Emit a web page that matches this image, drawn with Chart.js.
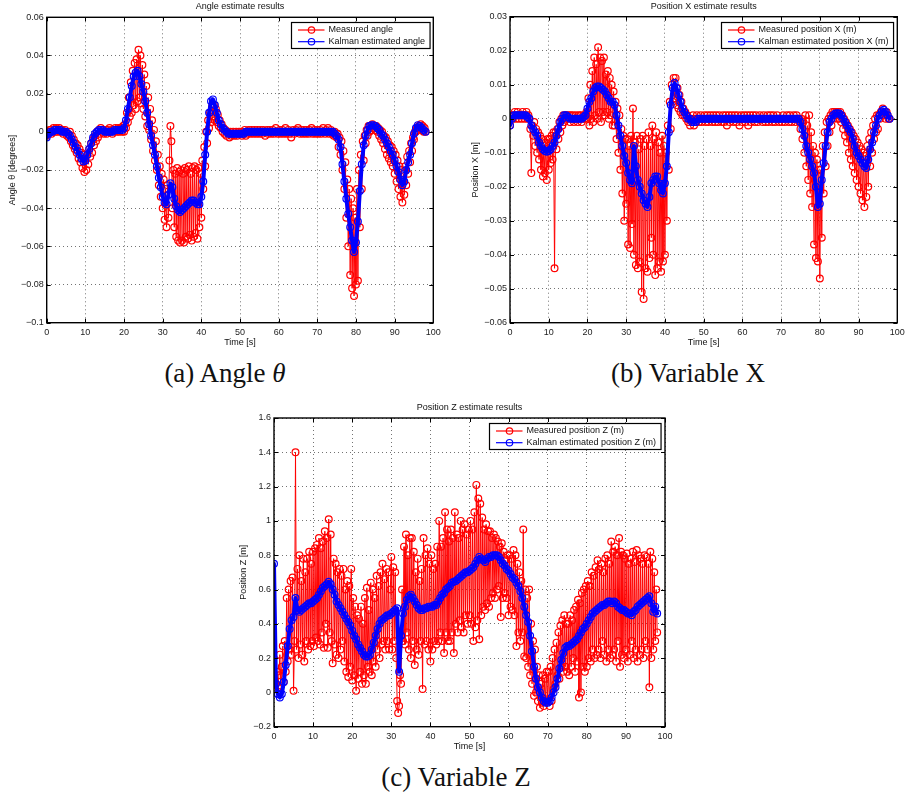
<!DOCTYPE html>
<html>
<head>
<meta charset="utf-8">
<script src="https://cdn.jsdelivr.net/npm/chart.js@4.4.0/dist/chart.umd.min.js"></script>
<style>
body { margin: 0; background: #fff; width: 913px; height: 794px; position: relative; overflow: hidden; }
canvas { position: absolute; }
.cap { position: absolute; font-family: "Liberation Serif", serif; font-size: 27px; color: #111;
       transform: translate(-50%, -50%); white-space: nowrap; }
</style>
</head>
<body>
<canvas id="g_angle" width="456" height="352" style="left:0;top:0"></canvas>
<canvas id="g_posX" width="453" height="352" style="left:460px;top:0"></canvas>
<canvas id="g_posZ" width="460" height="365" style="left:220px;top:395px"></canvas>
<div class="cap" style="left:225px;top:373px">(a) Angle <i>θ</i></div>
<div class="cap" style="left:688px;top:373px">(b) Variable X</div>
<div class="cap" style="left:456px;top:777px">(c) Variable Z</div>
<script>
// time of the Kalman estimates [s] (every 0.5 s)
const timeKalman = [
0,0.5,1,1.5,2,2.5,3,3.5,4,4.5,
5,5.5,6,6.5,7,7.5,8,8.5,9,9.5,
10,10.5,11,11.5,12,12.5,13,13.5,14,14.5,
15,15.5,16,16.5,17,17.5,18,18.5,19,19.5,
20,20.5,21,21.5,22,22.5,23,23.5,24,24.5,
25,25.5,26,26.5,27,27.5,28,28.5,29,29.5,
30,30.5,31,31.5,32,32.5,33,33.5,34,34.5,
35,35.5,36,36.5,37,37.5,38,38.5,39,39.5,
40,40.5,41,41.5,42,42.5,43,43.5,44,44.5,
45,45.5,46,46.5,47,47.5,48,48.5,49,49.5,
50,50.5,51,51.5,52,52.5,53,53.5,54,54.5,
55,55.5,56,56.5,57,57.5,58,58.5,59,59.5,
60,60.5,61,61.5,62,62.5,63,63.5,64,64.5,
65,65.5,66,66.5,67,67.5,68,68.5,69,69.5,
70,70.5,71,71.5,72,72.5,73,73.5,74,74.5,
75,75.5,76,76.5,77,77.5,78,78.5,79,79.5,
80,80.5,81,81.5,82,82.5,83,83.5,84,84.5,
85,85.5,86,86.5,87,87.5,88,88.5,89,89.5,
90,90.5,91,91.5,92,92.5,93,93.5,94,94.5,
95,95.5,96,96.5,97,97.5,98];

// time of the measurements [s] (every 0.25 s)
const timeMeasured = [
0,0.25,0.5,0.75,1,1.25,1.5,1.75,2,2.25,2.5,2.75,3,3.25,3.5,3.75,4,4.25,4.5,4.75,
5,5.25,5.5,5.75,6,6.25,6.5,6.75,7,7.25,7.5,7.75,8,8.25,8.5,8.75,9,9.25,9.5,9.75,
10,10.25,10.5,10.75,11,11.25,11.5,11.75,12,12.25,12.5,12.75,13,13.25,13.5,13.75,14,14.25,14.5,14.75,
15,15.25,15.5,15.75,16,16.25,16.5,16.75,17,17.25,17.5,17.75,18,18.25,18.5,18.75,19,19.25,19.5,19.75,
20,20.25,20.5,20.75,21,21.25,21.5,21.75,22,22.25,22.5,22.75,23,23.25,23.5,23.75,24,24.25,24.5,24.75,
25,25.25,25.5,25.75,26,26.25,26.5,26.75,27,27.25,27.5,27.75,28,28.25,28.5,28.75,29,29.25,29.5,29.75,
30,30.25,30.5,30.75,31,31.25,31.5,31.75,32,32.25,32.5,32.75,33,33.25,33.5,33.75,34,34.25,34.5,34.75,
35,35.25,35.5,35.75,36,36.25,36.5,36.75,37,37.25,37.5,37.75,38,38.25,38.5,38.75,39,39.25,39.5,39.75,
40,40.25,40.5,40.75,41,41.25,41.5,41.75,42,42.25,42.5,42.75,43,43.25,43.5,43.75,44,44.25,44.5,44.75,
45,45.25,45.5,45.75,46,46.25,46.5,46.75,47,47.25,47.5,47.75,48,48.25,48.5,48.75,49,49.25,49.5,49.75,
50,50.25,50.5,50.75,51,51.25,51.5,51.75,52,52.25,52.5,52.75,53,53.25,53.5,53.75,54,54.25,54.5,54.75,
55,55.25,55.5,55.75,56,56.25,56.5,56.75,57,57.25,57.5,57.75,58,58.25,58.5,58.75,59,59.25,59.5,59.75,
60,60.25,60.5,60.75,61,61.25,61.5,61.75,62,62.25,62.5,62.75,63,63.25,63.5,63.75,64,64.25,64.5,64.75,
65,65.25,65.5,65.75,66,66.25,66.5,66.75,67,67.25,67.5,67.75,68,68.25,68.5,68.75,69,69.25,69.5,69.75,
70,70.25,70.5,70.75,71,71.25,71.5,71.75,72,72.25,72.5,72.75,73,73.25,73.5,73.75,74,74.25,74.5,74.75,
75,75.25,75.5,75.75,76,76.25,76.5,76.75,77,77.25,77.5,77.75,78,78.25,78.5,78.75,79,79.25,79.5,79.75,
80,80.25,80.5,80.75,81,81.25,81.5,81.75,82,82.25,82.5,82.75,83,83.25,83.5,83.75,84,84.25,84.5,84.75,
85,85.25,85.5,85.75,86,86.25,86.5,86.75,87,87.25,87.5,87.75,88,88.25,88.5,88.75,89,89.25,89.5,89.75,
90,90.25,90.5,90.75,91,91.25,91.5,91.75,92,92.25,92.5,92.75,93,93.25,93.5,93.75,94,94.25,94.5,94.75,
95,95.25,95.5,95.75,96,96.25,96.5,96.75,97,97.25,97.5,97.75,98];

// (a) angle
const angleMeasured = [
-0.002,-0.001,0,0.001,0.001,-0.001,0,0.002,0.001,0,0.002,0,0.001,0.002,0,0.001,0.001,-0.001,0,0.001,
0,-0.002,-0.001,-0.003,0,-0.005,-0.002,-0.007,-0.004,-0.009,-0.006,-0.011,-0.007,-0.014,-0.009,-0.016,-0.011,-0.019,-0.012,-0.021,
-0.014,-0.020,-0.012,-0.017,-0.009,-0.013,-0.006,-0.011,-0.004,-0.007,-0.002,-0.005,0,-0.003,0.001,-0.001,0.002,0,0.001,-0.001,
0,0.001,-0.001,0.001,0,0.002,0,0.001,-0.001,0.001,0,0.002,0.001,0,0.002,0,0.001,0.002,0,0.003,
0,0.004,0.002,0.010,0.005,0.018,0.008,0.026,0.010,0.032,0.014,0.036,0.012,0.038,0.016,0.043,0.018,0.040,0.015,0.035,
0.012,0.030,0.008,0.024,0.003,0.018,0.001,0.012,-0.004,0.006,-0.010,0.001,-0.015,-0.005,-0.020,-0.012,-0.028,-0.018,-0.034,-0.022,
-0.040,-0.025,-0.046,-0.030,-0.050,-0.028,-0.045,-0.015,0.003,-0.005,-0.040,-0.020,-0.050,-0.022,-0.055,-0.019,-0.057,-0.021,-0.058,-0.020,
-0.057,-0.022,-0.058,-0.019,-0.055,-0.020,-0.056,-0.018,-0.054,-0.022,-0.057,-0.019,-0.055,-0.018,-0.053,-0.020,-0.056,-0.019,-0.050,-0.022,
-0.045,-0.015,-0.030,-0.008,-0.018,0,-0.006,0.006,0.002,0.010,0.005,0.013,0.008,0.014,0.006,0.012,0.005,0.009,0.003,0.006,
0.002,0.004,0,0.002,-0.001,0.001,-0.002,0,-0.001,-0.003,0,-0.002,-0.001,0,-0.002,-0.001,0,-0.002,-0.001,0,
-0.001,0,-0.002,0,-0.001,0.001,-0.002,0,-0.001,0.001,0,-0.001,0.001,0,-0.001,0.001,0,-0.001,0.001,0,
-0.001,0.001,0,-0.001,0.001,0,-0.002,0,0.001,-0.001,0,0.001,-0.001,0,0.001,-0.001,0,0.002,0,-0.001,
0,0.001,-0.001,0,0.001,-0.001,0,0.002,-0.001,0,0.001,-0.001,0,-0.003,0,0.001,-0.001,0,0.001,0,
0.002,0,-0.001,0.001,0,-0.001,0.001,0,-0.001,0.001,0,-0.001,0.001,0,0.002,-0.001,0,0.001,-0.001,0,
0.001,-0.001,0,0.001,-0.001,0,0.002,0,-0.001,0.001,0,0.002,-0.001,0,0.001,-0.001,0,-0.002,0,-0.002,
-0.003,-0.001,-0.008,-0.003,-0.012,-0.005,-0.020,-0.010,-0.030,-0.016,-0.045,-0.025,-0.060,-0.030,-0.075,-0.035,-0.082,-0.040,-0.086,-0.045,
-0.080,-0.030,-0.078,-0.020,-0.050,-0.012,-0.030,-0.005,-0.015,-0.002,-0.006,0.001,-0.002,0.003,0,0.003,0.001,0.004,0.002,0.003,
0.001,0.003,0,0.002,-0.002,0.001,-0.004,0,-0.006,-0.002,-0.009,-0.003,-0.012,-0.005,-0.014,-0.007,-0.016,-0.008,-0.018,-0.010,
-0.022,-0.012,-0.026,-0.015,-0.030,-0.018,-0.034,-0.020,-0.037,-0.022,-0.033,-0.018,-0.028,-0.013,-0.022,-0.010,-0.016,-0.006,-0.010,-0.003,
-0.004,0,0,0.002,0.001,0.003,0.002,0.004,0.001,0.003,0,0.002,0];
const angleKalman = [
-0.003,-0.001,0,0,0.001,0.001,0.001,0.001,0,0,
0,-0.001,-0.002,-0.004,-0.006,-0.008,-0.010,-0.012,-0.014,-0.0155,
-0.015,-0.012,-0.009,-0.006,-0.003,-0.001,0,0.001,0.001,0.001,
0,0,0,0,0,0.001,0.001,0.001,0.001,0.001,
0.002,0.006,0.012,0.018,0.024,0.029,0.031,0.032,0.029,0.025,
0.021,0.016,0.010,0.004,-0.002,-0.007,-0.012,-0.018,-0.024,-0.029,
-0.034,-0.037,-0.038,-0.033,-0.027,-0.029,-0.035,-0.039,-0.041,-0.042,
-0.041,-0.040,-0.039,-0.038,-0.037,-0.036,-0.036,-0.037,-0.038,-0.038,
-0.034,-0.026,-0.012,0,0.010,0.016,0.017,0.014,0.010,0.006,
0.004,0.002,0.001,0,-0.001,-0.001,-0.001,-0.001,-0.001,-0.001,
-0.001,-0.001,-0.001,0,0,0,0,0,0,0,
0,0,0,0,0,0,0,0,0,0,
0,0,0,0,0,0,0,0,0,0,
0,0,0,0,0,0,0,0,0,0,
0,0,0,0,0,0,0,0,0,-0.001,
-0.002,-0.004,-0.008,-0.017,-0.026,-0.035,-0.043,-0.050,-0.057,-0.063,
-0.058,-0.047,-0.031,-0.017,-0.007,-0.002,0.001,0.003,0.0035,0.0035,
0.003,0.002,0.001,-0.001,-0.002,-0.004,-0.006,-0.008,-0.010,-0.012,
-0.015,-0.018,-0.021,-0.025,-0.028,-0.026,-0.020,-0.016,-0.012,-0.006,
-0.001,0.002,0.0035,0.003,0.002,0.001,0];
const angleTicks = [-0.1, -0.08, -0.06, -0.04, -0.02, 0, 0.02, 0.04, 0.06];

// (b) position X
const posXMeasured = [
-0.002,0,0.001,0,0.001,0.002,0,0.001,0.002,0,0.001,0.001,0,0.002,0.001,0,0.001,0.002,0,0.001,
0,-0.003,-0.016,-0.002,-0.005,-0.001,-0.008,-0.003,-0.010,-0.004,-0.012,-0.005,-0.015,-0.006,-0.017,-0.008,-0.016,-0.007,-0.018,-0.006,
-0.015,-0.006,-0.013,-0.005,-0.012,-0.004,-0.044,-0.004,-0.009,-0.003,-0.006,-0.001,-0.004,0,-0.002,0.001,-0.001,0.001,0,0.001,
0,0.001,-0.001,0.001,0,0.001,-0.001,0,0.001,0,-0.001,0.001,0,0.001,-0.001,0,0.001,0,0.001,0.002,
0,0.006,-0.002,0.010,0,0.014,-0.001,0.018,0.001,0.016,0,0.021,0.002,0.018,-0.001,0.017,0.002,0.018,0.001,0.013,
0.002,0.014,0,0.012,0.001,0.010,-0.002,0.008,-0.002,0.005,-0.006,0.003,-0.010,0.001,-0.015,-0.003,-0.022,-0.005,-0.030,-0.006,
-0.025,-0.006,-0.037,-0.008,-0.038,-0.005,-0.031,0.003,-0.040,-0.007,-0.043,-0.005,-0.044,-0.009,-0.042,-0.006,-0.051,-0.005,-0.053,-0.008,
-0.044,-0.006,-0.045,-0.004,-0.041,-0.008,-0.035,-0.002,-0.040,-0.006,-0.046,-0.004,-0.044,-0.007,-0.042,-0.010,-0.045,-0.005,-0.042,-0.008,
-0.040,-0.010,-0.030,-0.002,-0.015,0.005,-0.003,0.010,0.005,0.012,0.006,0.012,0.004,0.009,0.003,0.007,0.002,0.005,0.001,0.003,
0.001,0.002,0,0.001,-0.001,0,-0.002,0,-0.001,0.001,-0.002,0,-0.001,0.001,0,-0.001,0,0.001,-0.001,0,
0,0.001,-0.001,0,0.001,-0.001,0,0.001,0,-0.001,0.001,0,-0.001,0.001,0,-0.001,0.001,0,0,-0.001,
0.001,-0.001,0,0.001,-0.002,0,0.001,-0.001,0,0.001,0,-0.001,0.001,0,-0.001,0.001,0,-0.002,0,0.001,
-0.001,0,0.001,-0.001,0,0.001,-0.002,0,0.001,-0.001,0,0.001,0,-0.001,0.001,0,-0.001,0,0.001,0,
0,-0.001,0.001,0,-0.001,0,0.001,-0.001,0,0.001,0,-0.001,0.001,0,-0.001,0,0.001,0,-0.001,0,
0,-0.001,0.001,0,-0.001,0,0.001,0,-0.001,0.001,0,-0.001,0,0.001,0,-0.001,0.001,0,0,-0.001,
-0.003,0,-0.006,-0.001,-0.010,0.001,-0.014,-0.002,-0.018,0.001,-0.022,-0.004,-0.026,-0.008,-0.037,-0.010,-0.041,-0.012,-0.042,-0.015,
-0.047,-0.015,-0.035,-0.008,-0.022,-0.004,-0.014,-0.001,-0.008,0,-0.004,0.001,-0.002,0.002,0,0.002,0.001,0.002,0,0.002,
0,0.002,-0.001,0.001,-0.003,0,-0.005,-0.001,-0.007,-0.002,-0.010,-0.003,-0.012,-0.004,-0.014,-0.005,-0.016,-0.006,-0.018,-0.007,
-0.020,-0.008,-0.022,-0.009,-0.024,-0.010,-0.026,-0.011,-0.023,-0.008,-0.020,-0.006,-0.014,-0.004,-0.010,-0.002,-0.006,0,-0.004,0.001,
-0.003,0.001,0,0.002,0.001,0.003,0.001,0.002,0,0.002,0.001,0,0];
const posXKalman = [
-0.002,0,0.001,0.001,0.001,0.001,0.001,0.001,0.001,0.0005,
0,-0.002,-0.003,-0.004,-0.005,-0.007,-0.008,-0.009,-0.0095,-0.0097,
-0.0095,-0.009,-0.008,-0.007,-0.005,-0.003,-0.001,0,0.001,0.001,
0.0005,0,0,0,0,0,0,0,0.0005,0.001,
0.003,0.005,0.006,0.008,0.009,0.0095,0.0095,0.009,0.0085,0.008,
0.007,0.006,0.005,0.005,0.004,0.001,-0.002,-0.005,-0.008,-0.011,
-0.013,-0.016,-0.018,-0.019,-0.008,-0.014,-0.018,-0.020,-0.022,-0.024,
-0.025,-0.026,-0.023,-0.019,-0.018,-0.017,-0.017,-0.019,-0.021,-0.022,
-0.019,-0.014,-0.004,0.004,0.009,0.0105,0.009,0.007,0.005,0.003,
0.002,0.001,0,0,-0.001,-0.001,-0.001,0,0,0,
0,0,0,0,0,0,0,0,0,0,
0,0,0,0,0,0,0,0,0,0,
0,0,0,0,0,0,0,0,0,0,
0,0,0,0,0,0,0,0,0,0,
0,0,0,0,0,0,0,0,0,0,
-0.001,-0.003,-0.005,-0.008,-0.010,-0.012,-0.014,-0.016,-0.020,-0.026,
-0.025,-0.018,-0.013,-0.008,-0.004,-0.001,0,0.001,0.0015,0.0016,
0.0015,0.001,0,-0.001,-0.002,-0.003,-0.004,-0.006,-0.008,-0.010,
-0.011,-0.012,-0.013,-0.014,-0.0145,-0.012,-0.009,-0.007,-0.004,-0.002,
0,0.001,0.0022,0.0026,0.002,0.001,0];
const posXTicks = [-0.06, -0.05, -0.04, -0.03, -0.02, -0.01, 0, 0.01, 0.02, 0.03];

// (c) position Z
const posZMeasured = [
0.08,0.02,0.05,0.12,0.03,0.10,0.22,0.04,0.15,0.27,0.06,0.30,0.12,0.55,0.18,0.60,0.25,0.65,0.22,0.67,
0.01,0.30,1.40,0.25,0.72,0.20,0.80,0.28,0.65,0.22,0.78,0.18,0.70,0.30,0.78,0.25,0.82,0.27,0.75,0.30,
0.82,0.27,0.84,0.32,0.86,0.30,0.90,0.28,0.84,0.35,0.88,0.26,0.94,0.40,0.90,0.26,1.01,0.35,0.92,0.30,
0.17,0.78,0.28,0.75,0.22,0.70,0.20,0.72,0.25,0.68,0.30,0.72,0.18,0.60,0.12,0.65,0.09,0.62,0.15,0.72,
0.07,0.55,0.10,0.50,0.01,0.45,0.08,0.43,0.12,0.50,0.05,0.40,0.10,0.55,0.05,0.61,0.15,0.48,0.12,0.64,
0.10,0.60,0.18,0.55,0.15,0.68,0.25,0.62,0.20,0.70,0.28,0.75,0.30,0.66,0.25,0.72,0.30,0.70,0.25,0.60,
0.79,0.25,0.73,0.30,0.70,0.20,-0.05,-0.12,-0.08,0.10,0.05,0.60,0.30,0.85,0.28,0.92,0.35,0.80,0.25,0.90,
0.20,0.90,0.30,0.82,0.16,0.70,0.25,0.78,0.22,0.65,0.30,0.72,0.02,0.90,0.28,0.80,0.30,0.84,0.25,0.75,
0.18,0.80,0.25,0.72,0.30,0.75,0.28,0.85,0.30,1.00,0.35,0.85,0.30,0.90,0.23,1.05,0.35,0.95,0.30,0.88,
0.30,0.95,0.35,0.90,0.23,1.05,0.40,0.92,0.35,0.90,0.42,1.00,0.38,0.95,0.35,0.98,0.45,0.92,0.40,0.95,
0.45,1.00,0.40,0.95,0.30,1.05,0.38,1.21,0.42,1.13,0.31,1.10,0.45,1.02,0.50,0.95,0.48,0.98,0.52,0.94,
0.50,0.94,0.55,0.90,0.58,0.92,0.55,0.90,0.60,0.88,0.62,0.85,0.44,0.87,0.55,0.82,0.58,0.77,0.55,0.80,
0.45,0.80,0.50,0.78,0.48,0.83,0.45,0.80,0.27,0.75,0.35,0.70,0.30,0.65,0.35,0.95,0.21,0.60,0.20,0.55,
0.15,0.60,0.10,0.40,0.05,0.30,-0.02,0.25,0.00,0.15,-0.05,0.10,-0.09,0.05,-0.06,0.10,-0.08,0.08,-0.05,0.12,
-0.04,0.12,-0.08,0.15,-0.05,0.20,0.02,0.25,0.05,0.29,0.10,0.35,0.08,0.39,0.15,0.42,0.12,0.45,0.15,0.40,
0.12,0.40,0.10,0.45,0.15,0.42,0.20,0.48,0.12,0.50,0.18,0.54,-0.03,0.52,0.00,0.58,0.15,0.60,0.12,0.62,
0.15,0.65,0.20,0.62,0.18,0.70,0.25,0.68,0.20,0.73,0.22,0.77,0.25,0.72,0.20,0.75,0.30,0.70,0.22,0.78,
0.18,0.80,0.25,0.75,0.20,0.88,0.22,0.82,0.25,0.85,0.18,0.80,0.30,0.90,0.15,0.82,0.22,0.80,0.20,0.78,
0.25,0.81,0.18,0.75,0.22,0.78,0.30,0.82,0.20,0.76,0.25,0.83,0.18,0.80,0.22,0.78,0.25,0.75,0.20,0.80,
0.30,0.79,0.25,0.75,0.03,0.82,0.20,0.78,0.25,0.70,0.30,0.60,0.35];
const posZKalman = [
0.75,0.05,-0.01,-0.03,-0.01,0.06,0.16,0.27,0.37,0.42,
0.44,0.55,0.48,0.47,0.48,0.49,0.50,0.51,0.52,0.52,
0.53,0.54,0.55,0.57,0.59,0.61,0.62,0.63,0.645,0.63,
0.60,0.57,0.53,0.51,0.49,0.47,0.45,0.43,0.41,0.39,
0.36,0.33,0.31,0.28,0.26,0.24,0.22,0.21,0.21,0.22,
0.25,0.29,0.33,0.37,0.40,0.42,0.43,0.44,0.45,0.45,
0.46,0.47,0.48,0.49,0.12,0.33,0.46,0.50,0.54,0.56,
0.57,0.55,0.53,0.51,0.49,0.48,0.48,0.49,0.49,0.50,
0.50,0.50,0.51,0.51,0.53,0.55,0.57,0.58,0.60,0.61,
0.62,0.64,0.645,0.65,0.66,0.67,0.68,0.69,0.70,0.70,
0.71,0.72,0.73,0.75,0.77,0.79,0.78,0.77,0.76,0.78,
0.79,0.79,0.80,0.80,0.80,0.79,0.77,0.75,0.74,0.72,
0.71,0.69,0.67,0.66,0.64,0.62,0.59,0.55,0.50,0.45,
0.41,0.33,0.24,0.15,0.08,0.03,0,-0.03,-0.05,-0.06,
-0.06,-0.05,-0.03,0,0.03,0.08,0.14,0.19,0.23,0.26,
0.27,0.27,0.28,0.29,0.30,0.31,0.33,0.35,0.37,0.38,
0.40,0.42,0.44,0.46,0.47,0.48,0.49,0.50,0.51,0.51,
0.52,0.53,0.53,0.52,0.53,0.52,0.50,0.49,0.48,0.48,
0.47,0.46,0.46,0.45,0.47,0.48,0.50,0.51,0.52,0.53,
0.54,0.55,0.56,0.52,0.47,0.50,0.46];
const posZTicks = [-0.2, 0, 0.2, 0.4, 0.6, 0.8, 1, 1.2, 1.4, 1.6];

const timeTicks = [0, 10, 20, 30, 40, 50, 60, 70, 80, 90, 100];

const FONT = '"Liberation Sans", Arial, sans-serif';

function fmt(v) {
    return parseFloat(v.toFixed(4)).toString().replace('-', '\u2212');
}

// box, inward ticks, titles and legend in the matlab look
const matlabPlugin = {
    id: 'matlab',
    afterDraw(chart, args, o) {
        const ctx = chart.ctx, a = chart.chartArea;
        const sx = chart.scales.x, sy = chart.scales.y;
        ctx.save();
        ctx.strokeStyle = '#000';
        ctx.lineWidth = 1;
        ctx.beginPath();
        sx.ticks.forEach(function(t) {
            const px = Math.round(sx.getPixelForValue(t.value)) + 0.5;
            ctx.moveTo(px, a.bottom); ctx.lineTo(px, a.bottom - 4);
            ctx.moveTo(px, a.top); ctx.lineTo(px, a.top + 4);
        });
        sy.ticks.forEach(function(t) {
            const py = Math.round(sy.getPixelForValue(t.value)) + 0.5;
            ctx.moveTo(a.left, py); ctx.lineTo(a.left + 4, py);
            ctx.moveTo(a.right, py); ctx.lineTo(a.right - 4, py);
        });
        ctx.stroke();
        ctx.lineWidth = 1.4;
        ctx.strokeRect(a.left, a.top, a.right - a.left, a.bottom - a.top);

        ctx.fillStyle = '#111';
        ctx.font = '9px ' + FONT;
        ctx.textAlign = 'center';
        ctx.textBaseline = 'middle';
        const cx = (a.left + a.right) / 2;
        ctx.fillText(o.title, cx, a.top - 10.5);
        ctx.fillText('Time [s]', cx, a.bottom + 20);
        ctx.save();
        ctx.translate(a.left + o.yTitleDx, (a.top + a.bottom) / 2);
        ctx.rotate(-Math.PI / 2);
        ctx.fillText(o.yTitle, 0, 0);
        ctx.restore();

        // legend
        const ds = chart.data.datasets;
        let tw = 0;
        ds.forEach(function(d) { tw = Math.max(tw, ctx.measureText(d.label).width); });
        const w = 37 + tw + 5, h = 26;
        const bx = Math.round(a.right - 4 - w) + 0.5, by = Math.round(a.top + 5) + 0.5;
        ctx.fillStyle = '#fff';
        ctx.fillRect(bx, by, w, h);
        ctx.strokeStyle = '#000';
        ctx.lineWidth = 1.2;
        ctx.strokeRect(bx, by, w, h);
        ds.forEach(function(d, k) {
            const ly = by + 7.5 + k * 11.7;
            ctx.strokeStyle = d.borderColor;
            ctx.lineWidth = 1.2;
            ctx.beginPath();
            ctx.moveTo(bx + 6.5, ly); ctx.lineTo(bx + 33, ly);
            ctx.stroke();
            ctx.beginPath();
            ctx.arc(bx + 20, ly, 3.2, 0, Math.PI * 2);
            ctx.stroke();
            ctx.fillStyle = '#111';
            ctx.textAlign = 'left';
            ctx.fillText(d.label, bx + 37, ly);
        });
        ctx.restore();
    }
};

function plot(id, measured, kalman, yTicks, labels, box, yTitleDx) {
    const ctx = document.getElementById(id).getContext('2d');
    const pts = function(times, arr) {
        return times.map(function(t, i) { return {x: t, y: arr[i]}; });
    };
    const serie = function(label, color, data, width, order) {
        return {
            label: label,
            data: data,
            borderColor: color,
            backgroundColor: 'rgba(0,0,0,0)',
            borderWidth: width,
            borderJoinStyle: 'round',
            borderCapStyle: 'round',
            pointRadius: 3.4,
            pointBorderWidth: 1.2,
            pointBorderColor: color,
            pointBackgroundColor: 'rgba(0,0,0,0)',
            tension: 0,
            order: order
        };
    };
    const tickFont = {family: FONT, size: 9};
    const xH = 14;
    const config = {
        type: 'line',
        data: {
            datasets: [
                serie(labels.measured, '#ff0000', pts(timeMeasured, measured), 1, 1),
                serie(labels.kalman, '#0000ff', pts(timeKalman, kalman), 4, 0)
            ]
        },
        options: {
            responsive: false,
            animation: false,
            devicePixelRatio: 1,
            layout: {padding: {left: 0, top: box.top, right: box.right, bottom: box.bottom - xH}},
            plugins: {
                legend: {display: false},
                tooltip: {enabled: false},
                matlab: {title: labels.title, yTitle: labels.yTitle, yTitleDx: yTitleDx}
            },
            scales: {
                x: {
                    type: 'linear',
                    min: 0,
                    max: 100,
                    afterBuildTicks: function(s) { s.ticks = timeTicks.map(function(v) { return {value: v}; }); },
                    afterFit: function(s) { s.height = xH; },
                    grid: {color: 'rgba(0,0,0,0.55)', lineWidth: 1, drawTicks: false},
                    border: {display: false, dash: [1, 3]},
                    ticks: {font: tickFont, color: '#222', padding: 4, maxRotation: 0, autoSkip: false,
                            callback: function(v) { return fmt(v); }}
                },
                y: {
                    type: 'linear',
                    min: yTicks[0],
                    max: yTicks[yTicks.length - 1],
                    afterBuildTicks: function(s) { s.ticks = yTicks.map(function(v) { return {value: v}; }); },
                    afterFit: function(s) { s.width = box.left; },
                    grid: {color: 'rgba(0,0,0,0.55)', lineWidth: 1, drawTicks: false},
                    border: {display: false, dash: [1, 3]},
                    ticks: {font: tickFont, color: '#222', padding: 3, autoSkip: false,
                            callback: function(v) { return fmt(v); }}
                }
            }
        },
        plugins: [matlabPlugin]
    };
    return new Chart(ctx, config);
}

window.addEventListener('load', () => {
    plot('g_angle', angleMeasured, angleKalman, angleTicks,
        {measured: 'Measured angle', kalman: 'Kalman estimated angle',
         title: 'Angle estimate results', yTitle: 'Angle \u03b8 [degrees]'},
        {left: 46.7, top: 17.3, right: 22.7, bottom: 29.3}, -34.5);
    plot('g_posX', posXMeasured, posXKalman, posXTicks,
        {measured: 'Measured position X (m)', kalman: 'Kalman estimated position X (m)',
         title: 'Position X estimate results', yTitle: 'Position X [m]'},
        {left: 50, top: 16.7, right: 15.7, bottom: 29.3}, -34);
    plot('g_posZ', posZMeasured, posZKalman, posZTicks,
        {measured: 'Measured position Z (m)', kalman: 'Kalman estimated position Z (m)',
         title: 'Position Z estimate results', yTitle: 'Position Z [m]'},
        {left: 54, top: 23, right: 15, bottom: 33.3}, -30);
});
</script>
</body>
</html>
